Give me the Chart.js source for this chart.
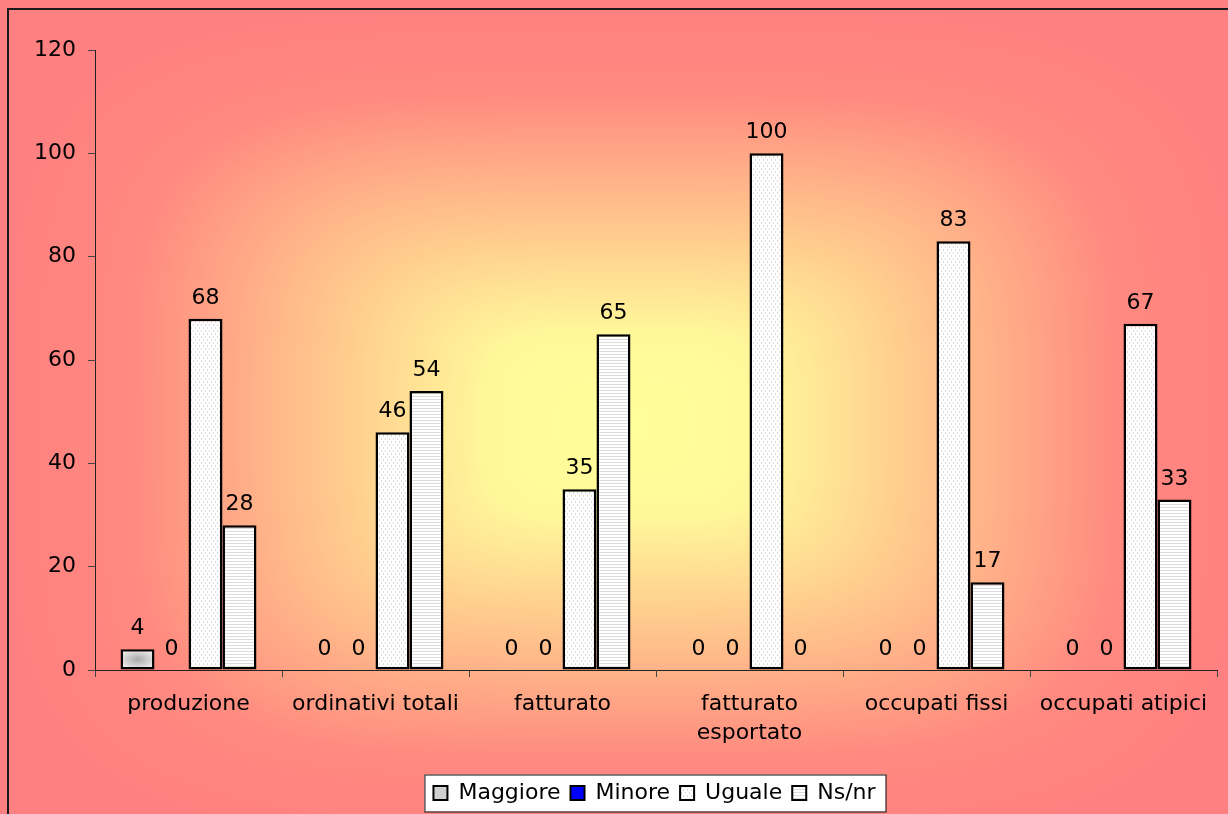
<!DOCTYPE html>
<html>
<head>
<meta charset="utf-8">
<script src="https://cdn.jsdelivr.net/npm/chart.js@4.4.1/dist/chart.umd.min.js"></script>
<style>
  body { margin: 0; background: #fff; }
  canvas { display: block; }
</style>
</head>
<body>
<canvas id="sondaggio" width="1228" height="814"></canvas>
<script>
// categorie e risposte (%)
var categorie = [["produzione"], ["ordinativi totali"], ["fatturato"], ["fatturato", "esportato"], ["occupati fissi"], ["occupati atipici"]];
var maggiore = [4, 0, 0, 0, 0, 0];
var minore = [0, 0, 0, 0, 0, 0];
var uguale = [68, 46, 35, 100, 83, 67];
var nsnr = [28, 54, 65, 0, 17, 33];

var FONT = "DejaVu Sans";
Chart.defaults.font.family = FONT;
Chart.defaults.font.size = 22;
Chart.defaults.color = "#000";

// white with short staggered grey dashes
function dotPattern() {
	var c = document.createElement("canvas");
	c.width = 4; c.height = 6;
	var g = c.getContext("2d");
	g.fillStyle = "#fff";
	g.fillRect(0, 0, 4, 6);
	g.fillStyle = "#d9d9d9";
	g.fillRect(1, 0, 1, 2);
	g.fillRect(3, 3, 1, 2);
	return g.createPattern(c, "repeat");
}

// white with thin horizontal grey lines
function linePattern() {
	var c = document.createElement("canvas");
	c.width = 6; c.height = 3;
	var g = c.getContext("2d");
	g.fillStyle = "#fff";
	g.fillRect(0, 0, 6, 3);
	g.fillStyle = "#dcdcdc";
	g.fillRect(0, 0, 6, 1);
	return g.createPattern(c, "repeat");
}

function hexRgb(h) {
	return [parseInt(h.substr(1, 2), 16), parseInt(h.substr(3, 2), 16), parseInt(h.substr(5, 2), 16)];
}

function colorAt(stops, t) {
	if (t <= stops[0][0]) return hexRgb(stops[0][1]);
	for (var i = 1; i < stops.length; i++) {
		if (t <= stops[i][0]) {
			var a = hexRgb(stops[i - 1][1]), b = hexRgb(stops[i][1]);
			var k = (t - stops[i - 1][0]) / (stops[i][0] - stops[i - 1][0]);
			return [a[0] + (b[0] - a[0]) * k, a[1] + (b[1] - a[1]) * k, a[2] + (b[2] - a[2]) * k];
		}
	}
	return hexRgb(stops[stops.length - 1][1]);
}

// "from centre" fill of a rectangle, rounded-rectangle contours
function centreFill(w, h, x0, y0, x1, y1, stops) {
	var c = document.createElement("canvas");
	c.width = w; c.height = h;
	var g = c.getContext("2d");
	var img = g.createImageData(w, h);
	var cx = (x0 + x1) / 2, cy = (y0 + y1) / 2, hw = (x1 - x0) / 2, hh = (y1 - y0) / 2;
	for (var y = 0; y < h; y++) {
		for (var x = 0; x < w; x++) {
			var u = Math.abs(x - cx) / hw, v = Math.abs(y - cy) / hh;
			var t = Math.pow(Math.pow(u, 4) + Math.pow(v, 4), 0.25);
			var col = colorAt(stops, t);
			var p = (y * w + x) * 4;
			img.data[p] = col[0]; img.data[p + 1] = col[1]; img.data[p + 2] = col[2]; img.data[p + 3] = 255;
		}
	}
	g.putImageData(img, 0, 0);
	return c;
}

var bgStops = [[0, "#ffff99"], [0.22, "#fff89a"], [0.5, "#ffc48c"], [0.8, "#ff8a80"], [1, "#ff8080"]];
var bgImage = centreFill(1228, 814, 8, 9, 1240, 840, bgStops);

var backdrop = {
	id: "backdrop",
	afterLayout: function(chart) {
		// legend sits a little right of the canvas centre
		chart.legend.left += 92;
	},
	beforeDraw: function(chart) {
		var ctx = chart.ctx;
		ctx.save();
		ctx.fillStyle = "#fff";
		ctx.fillRect(0, 0, chart.width, chart.height);
		ctx.drawImage(bgImage, 0, 0);
		ctx.strokeStyle = "#1a1a1a";
		ctx.lineWidth = 2;
		ctx.beginPath();
		ctx.moveTo(8, chart.height + 2);
		ctx.lineTo(8, 9);
		ctx.lineTo(chart.width + 2, 9);
		ctx.stroke();

		// legend frame
		var boxes = chart.legend.legendHitBoxes;
		if (boxes && boxes.length) {
			var l = Infinity, r = -Infinity, mid = boxes[0].top + boxes[0].height / 2;
			boxes.forEach(function(b) {
				l = Math.min(l, b.left);
				r = Math.max(r, b.left + b.width);
			});
			ctx.fillStyle = "#fff";
			ctx.fillRect(l - 9, mid - 18.5, r - l + 19, 37);
			ctx.lineWidth = 1.2;
			ctx.strokeStyle = "#333";
			ctx.strokeRect(l - 9 + 0.5, mid - 18.5 + 0.5, r - l + 19, 37);
		}
		ctx.restore();
	}
};

var barLabels = {
	id: "barLabels",
	afterDatasetsDraw: function(chart) {
		var ctx = chart.ctx;
		ctx.save();

		// shaded fill of the "Maggiore" bars
		chart.getDatasetMeta(0).data.forEach(function(el) {
			var top = Math.min(el.y, el.base), bottom = Math.max(el.y, el.base);
			if (bottom - top < 1) return;
			var bw = 2.5, l = el.x - el.width / 2 + bw, t = top + bw;
			var w = el.width - 2 * bw, h = bottom - top - 2 * bw;
			var cx = l + w / 2, cy = t + h / 2;
			ctx.save();
			ctx.beginPath();
			ctx.rect(l, t, w, h);
			ctx.clip();
			ctx.translate(cx, cy);
			ctx.scale(w / h, 1);
			var grad = ctx.createRadialGradient(0, 0, 0, 0, 0, h * 0.75);
			grad.addColorStop(0, "#a9a9a9");
			grad.addColorStop(1, "#f4f4f4");
			ctx.fillStyle = grad;
			ctx.fillRect(-h, -h, 2 * h, 2 * h);
			ctx.restore();
		});

		ctx.font = "22px '" + FONT + "'";
		ctx.fillStyle = "#000";
		ctx.textAlign = "center";
		ctx.textBaseline = "alphabetic";
		chart.data.datasets.forEach(function(ds, di) {
			chart.getDatasetMeta(di).data.forEach(function(el, i) {
				ctx.fillText(String(ds.data[i]), el.x, el.y - 15);
			});
		});
		ctx.restore();
	}
};

new Chart(document.getElementById("sondaggio"), {
	type: "bar",
	data: {
		labels: categorie,
		datasets: [
			{ label: "Maggiore", data: maggiore, backgroundColor: "#d0d0d0" },
			{ label: "Minore", data: minore, backgroundColor: "#0000ff" },
			{ label: "Uguale", data: uguale, backgroundColor: dotPattern() },
			{ label: "Ns/nr", data: nsnr, backgroundColor: linePattern() }
		]
	},
	options: {
		responsive: false,
		animation: false,
		events: [],
		layout: { padding: { top: 50, right: 11, left: 0, bottom: 0 } },
		datasets: {
			bar: {
				categoryPercentage: 0.727,
				barPercentage: 1,
				borderColor: "#000",
				borderWidth: 2.5,
				borderSkipped: false
			}
		},
		scales: {
			x: {
				afterFit: function(scale) { scale.height = 102; },
				grid: { drawOnChartArea: false, tickLength: 7, color: "#444", offset: true },
				border: { color: "#222", width: 1 },
				ticks: { padding: 13, maxRotation: 0, autoSkip: false, font: { size: 22, lineHeight: 1.32 } }
			},
			y: {
				min: 0,
				max: 120,
				afterFit: function(scale) { scale.width = 95; },
				grid: { drawOnChartArea: false, tickLength: 7, color: "#444" },
				border: { color: "#222", width: 1 },
				ticks: { stepSize: 20, padding: 12, font: { size: 22 } }
			}
		},
		plugins: {
			tooltip: { enabled: false },
			legend: {
				position: "bottom",
				labels: {
					boxWidth: 14,
					boxHeight: 14,
					padding: 10,
					font: { size: 22 },
					generateLabels: function(chart) {
						return chart.data.datasets.map(function(ds, i) {
							return {
								text: ds.label,
								fillStyle: ds.backgroundColor,
								strokeStyle: "#000",
								lineWidth: 2,
								datasetIndex: i
							};
						});
					}
				}
			}
		}
	},
	plugins: [backdrop, barLabels]
});
</script>
</body>
</html>
